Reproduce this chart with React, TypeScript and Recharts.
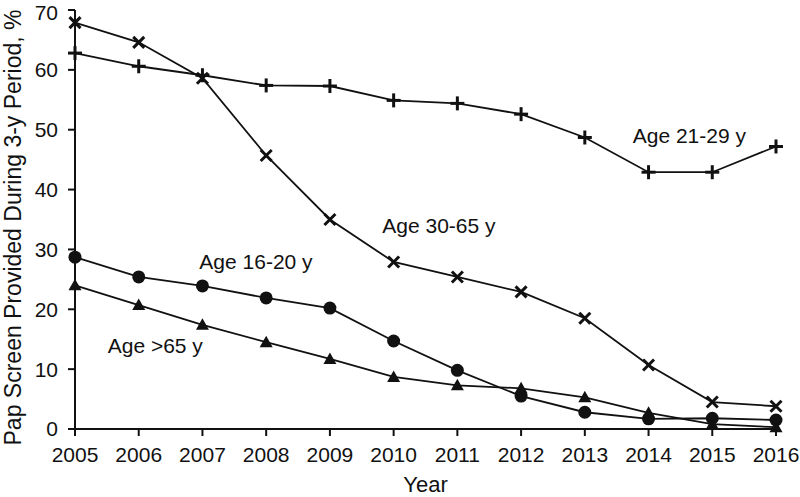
import { LineChart, Line, XAxis, YAxis, ReferenceDot } from 'recharts';

const years = [2005, 2006, 2007, 2008, 2009, 2010, 2011, 2012, 2013, 2014, 2015, 2016];
const age21to29 = [62.8, 60.6, 59.1, 57.4, 57.3, 54.9, 54.4, 52.6, 48.7, 42.9, 42.9, 47.2];
const age30to65 = [67.9, 64.6, 58.6, 45.7, 35.0, 27.9, 25.4, 22.9, 18.5, 10.7, 4.5, 3.8];
const age16to20 = [28.7, 25.4, 23.9, 21.9, 20.2, 14.7, 9.8, 5.5, 2.8, 1.7, 1.8, 1.5];
const ageOver65 = [24.0, 20.7, 17.4, 14.5, 11.7, 8.7, 7.3, 6.8, 5.3, 2.7, 0.8, 0.3];
const yTicks = [0, 10, 20, 30, 40, 50, 60, 70];

// in-plot series labels (data coordinates)
const seriesLabels = ['Age 21-29 y', 'Age 30-65 y', 'Age 16-20 y', 'Age >65 y'];
const labelX = [2014.64, 2010.71, 2007.84, 2006.26];
const labelY = [49.1, 34.0, 27.9, 13.9];

const data = years.map((year, i) => ({
  year,
  a2129: age21to29[i],
  a3065: age30to65[i],
  a1620: age16to20[i],
  a65: ageOver65[i],
}));

const INK = '#111';
const FONT = '"Liberation Sans", Arial, Helvetica, sans-serif';

const PlusDot = ({ cx, cy }: any) => (
  <g stroke={INK} strokeWidth={3}>
    <line x1={cx - 7} y1={cy} x2={cx + 7} y2={cy} />
    <line x1={cx} y1={cy - 7} x2={cx} y2={cy + 7} />
  </g>
);

const CrossDot = ({ cx, cy }: any) => (
  <g stroke={INK} strokeWidth={3}>
    <line x1={cx - 5.5} y1={cy - 5.5} x2={cx + 5.5} y2={cy + 5.5} />
    <line x1={cx - 5.5} y1={cy + 5.5} x2={cx + 5.5} y2={cy - 5.5} />
  </g>
);

const CircleDot = ({ cx, cy }: any) => <circle cx={cx} cy={cy} r={6.5} fill={INK} stroke="none" />;

const TriangleDot = ({ cx, cy }: any) => (
  <polygon points={`${cx},${cy - 6.5} ${cx + 6.5},${cy + 5} ${cx - 6.5},${cy + 5}`} fill={INK} />
);

const YTitle = ({ viewBox }: any) => {
  const y = viewBox.y + viewBox.height / 2 + 8;
  return (
    <text
      x={21}
      y={y}
      transform={`rotate(-90 21 ${y})`}
      textAnchor="middle"
      fontSize={23}
      fill={INK}
      fontFamily={FONT}
    >
      Pap Screen Provided During 3-y Period, %
    </text>
  );
};

export default function App() {
  return (
    <div style={{ position: 'absolute', left: 0, top: 0, background: '#fff' }}>
      <LineChart
        width={800}
        height={497}
        data={data}
        margin={{ top: 10, right: 24, left: 0, bottom: 0 }}
        style={{ fontFamily: FONT }}
      >
        <XAxis
          dataKey="year"
          type="number"
          domain={[2005, 2016]}
          ticks={years}
          interval={0}
          height={68}
          stroke={INK}
          strokeWidth={2}
          tickSize={7}
          tickMargin={11}
          tick={{ fill: INK, fontSize: 21 }}
          tickLine={{ stroke: INK, strokeWidth: 2 }}
          label={{ value: 'Year', position: 'insideBottom', offset: 5, fontSize: 22, fill: INK }}
        />
        <YAxis
          type="number"
          domain={[0, 70]}
          ticks={yTicks}
          width={75}
          stroke={INK}
          strokeWidth={2}
          tickSize={7}
          tickMargin={10}
          tick={{ fill: INK, fontSize: 21 }}
          tickLine={{ stroke: INK, strokeWidth: 2 }}
          label={<YTitle />}
        />
        <Line
          dataKey="a2129"
          stroke={INK}
          strokeWidth={1.8}
          isAnimationActive={false}
          dot={(p: any) => <PlusDot key={`p-${p.index}`} cx={p.cx} cy={p.cy} />}
          activeDot={false}
        />
        <Line
          dataKey="a3065"
          stroke={INK}
          strokeWidth={1.8}
          isAnimationActive={false}
          dot={(p: any) => <CrossDot key={`x-${p.index}`} cx={p.cx} cy={p.cy} />}
          activeDot={false}
        />
        <Line
          dataKey="a1620"
          stroke={INK}
          strokeWidth={1.8}
          isAnimationActive={false}
          dot={(p: any) => <CircleDot key={`c-${p.index}`} cx={p.cx} cy={p.cy} />}
          activeDot={false}
        />
        <Line
          dataKey="a65"
          stroke={INK}
          strokeWidth={1.8}
          isAnimationActive={false}
          dot={(p: any) => <TriangleDot key={`t-${p.index}`} cx={p.cx} cy={p.cy} />}
          activeDot={false}
        />
        {seriesLabels.map((name, i) => (
          <ReferenceDot
            key={name}
            x={labelX[i]}
            y={labelY[i]}
            r={1}
            fill="none"
            stroke="none"
            ifOverflow="visible"
            label={{ value: name, position: 'center', fontSize: 21, fill: INK }}
          />
        ))}
      </LineChart>
    </div>
  );
}
